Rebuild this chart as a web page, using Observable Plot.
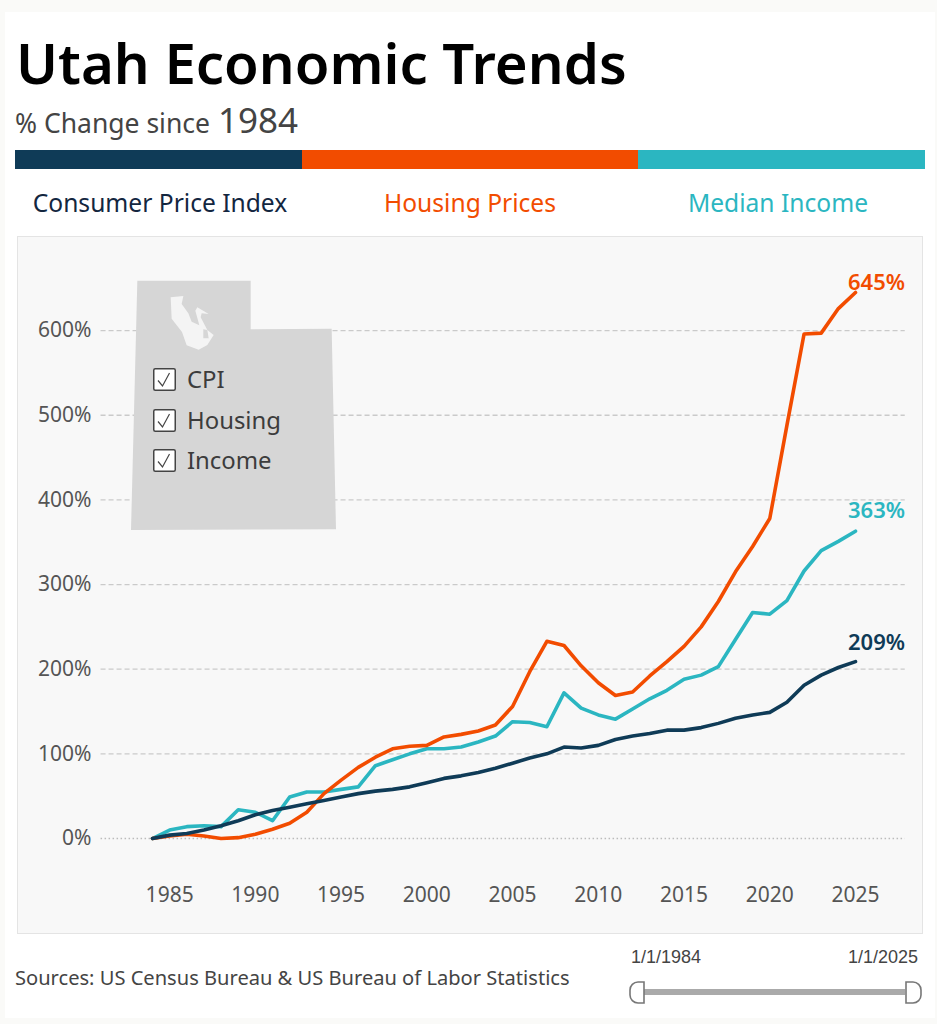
<!DOCTYPE html>
<html><head><meta charset="utf-8">
<script src="https://cdn.jsdelivr.net/npm/d3@7"></script>
<script src="https://cdn.jsdelivr.net/npm/@observablehq/plot@0.6"></script>
<style>
html,body{margin:0;padding:0;background:#fafaf8;}
#page{position:relative;width:937px;height:1024px;overflow:hidden;font-family:"Noto Sans",sans-serif;}
#page>*{position:absolute;}
#sheet{left:5px;top:12px;width:930px;height:1006px;background:#fff;}
h1{margin:0;left:16px;top:24px;font-size:56.3px;line-height:76px;font-weight:600;color:#000;white-space:nowrap;}
#sub{left:15px;top:97px;font-size:26.5px;line-height:46px;color:#444;white-space:nowrap;}
#sub b{font-weight:400;font-size:35px;margin-left:1px;}
.bar{top:150px;height:19px;}
.head{top:186px;font-size:24.6px;line-height:34px;transform:translateX(-50%);white-space:nowrap;}
#panel{left:17px;top:236px;width:904px;height:696px;background:#f8f8f8;border:1px solid #e4e4e4;}
#chart{left:17px;top:236px;}
#chart svg{background:transparent;display:block;}
#utah{left:120px;top:270px;}
.opt{left:153px;display:flex;align-items:center;gap:11px;font-size:23.9px;line-height:30px;color:#3c3c3c;}
.opt svg{display:block;}
#src{left:15px;top:964px;font-size:20.1px;line-height:28px;color:#444;white-space:nowrap;}
.date{top:947px;font-family:"Liberation Sans",sans-serif;font-size:18px;line-height:20px;color:#444;}
#track{left:644px;top:989px;width:261px;height:6px;background:#aaa;}
#hl{left:629px;top:981px;}#hr{left:905px;top:981px;}
</style></head>
<body>
<div id="page">
  <div id="sheet"></div>
  <h1>Utah Economic Trends</h1>
  <div id="sub">% Change since <b>1984</b></div>
  <div class="bar" style="left:15px;width:287px;background:#0f3b57"></div>
  <div class="bar" style="left:302px;width:336px;background:#f24c00"></div>
  <div class="bar" style="left:638px;width:287px;background:#2bb6c1"></div>
  <div class="head" style="left:160px;color:#13263f">Consumer Price Index</div>
  <div class="head" style="left:470px;color:#f24c00">Housing Prices</div>
  <div class="head" style="left:778px;color:#2bb6c1">Median Income</div>
  <div id="panel"></div>
  <div id="chart"></div>
  <svg id="utah" width="230" height="270" viewBox="0 0 690 810">
    <path d="M52 32H392V178L635 176L648 778L33 780Z" fill="#d6d6d6"/>
    <path d="M152 82L190 78L185 102L205 130L215 155L238 166L226 122L232 112L266 132L245 130L242 142L262 180L281 195L262 225L236 239L200 226L186 186L155 146Z" fill="#f4f4f4"/>
    <path d="M250 178L262 180L266 205L250 205Z" fill="#d6d6d6"/>
  </svg>
  <div class="opt" style="top:364px"><svg width="23" height="23" viewBox="0 0 23 23"><rect x=".75" y=".75" width="21.5" height="21.5" rx="1.5" fill="#fff" stroke="#444" stroke-width="1.5"/><path d="M5 12.5L9.5 18L16.5 5" fill="none" stroke="#444" stroke-width="1.2"/></svg>CPI</div>
  <div class="opt" style="top:405px"><svg width="23" height="23" viewBox="0 0 23 23"><rect x=".75" y=".75" width="21.5" height="21.5" rx="1.5" fill="#fff" stroke="#444" stroke-width="1.5"/><path d="M5 12.5L9.5 18L16.5 5" fill="none" stroke="#444" stroke-width="1.2"/></svg>Housing</div>
  <div class="opt" style="top:445px"><svg width="23" height="23" viewBox="0 0 23 23"><rect x=".75" y=".75" width="21.5" height="21.5" rx="1.5" fill="#fff" stroke="#444" stroke-width="1.5"/><path d="M5 12.5L9.5 18L16.5 5" fill="none" stroke="#444" stroke-width="1.2"/></svg>Income</div>
  <div id="src">Sources: US Census Bureau &amp; US Bureau of Labor Statistics</div>
  <div class="date" style="left:631px">1/1/1984</div>
  <div class="date" style="right:19px">1/1/2025</div>
  <div id="track"></div>
  <svg id="hl" width="16" height="23"><path d="M15 1H9A8 8 0 0 0 1 9V14A8 8 0 0 0 9 22H15Z" fill="#fff" stroke="#777" stroke-width="1.6"/></svg>
  <svg id="hr" width="17" height="23"><path d="M1 1H8A8 8 0 0 1 16 9V14A8 8 0 0 1 8 22H1Z" fill="#fff" stroke="#777" stroke-width="1.6"/></svg>
</div>
<script>
const years = d3.range(1984, 2026);
const cpi = [0,4,6,10,15,21,28,33,37,41,45,49,53,56,58,61,66,71,74,78,83,89,95,100,108,107,110,117,121,124,128,128,131,136,142,146,149,161,181,193,202,209];
const housing = [0,3,5,3,0,1,5,11,18,31,53,69,84,96,106,109,110,120,123,127,134,156,197,233,228,204,184,169,173,192,209,227,250,280,315,345,378,488,596,597,626,645];
const income = [0,10,14,15,14,34,31,21,49,55,55,58,61,86,93,100,106,106,108,114,121,138,137,132,172,154,146,141,153,165,175,188,193,203,235,267,265,281,316,340,351,363];
const gridValues = [100,200,300,400,500,600];
const yearTicks = [1985,1990,1995,2000,2005,2010,2015,2020,2025];
const percentTicks = [0,100,200,300,400,500,600];
const navy = "#0f3b57", orange = "#f24c00", teal = "#2bb6c1";
const rows = a => years.map((year, i) => ({year, value: a[i]}));
const last = a => [{year: 2025, value: a[a.length - 1]}];
const lineOpts = c => ({x: "year", y: "value", stroke: c, strokeWidth: 3.6, strokeLinejoin: "round", strokeLinecap: "round"});
const labelOpts = (c, dy) => ({x: "year", y: "value", text: d => d.value + "%", fill: c, dy, dx: 21, fontSize: 22, fontWeight: 600, textAnchor: "middle"});
const chart = Plot.plot({
  width: 906, height: 698,
  marginLeft: 135, marginRight: 68, marginTop: 56, marginBottom: 96,
  style: {fontFamily: '"Noto Sans", sans-serif', background: "transparent", overflow: "visible"},
  x: {domain: [1984, 2025]},
  y: {domain: [0, 645]},
  marks: [
    Plot.ruleY(gridValues, {x1: 1981, x2: 2027.9, stroke: "#cacaca", strokeWidth: 1.3, strokeDasharray: "5 3"}),
    Plot.ruleY([0], {x1: 1981, x2: 2027.9, stroke: "#bbbbbb", strokeWidth: 1.3, strokeDasharray: "1.5 2.5"}),
    Plot.axisX({ticks: yearTicks, tickFormat: d3.format("d"), tickSize: 0, tickPadding: 49, fontSize: 21, color: "#555", label: null}),
    Plot.axisY({ticks: percentTicks, tickFormat: d => d + "%", tickSize: 0, tickPadding: 61, fontSize: 21, color: "#555", label: null}),
    Plot.line(rows(income), lineOpts(teal)),
    Plot.line(rows(housing), lineOpts(orange)),
    Plot.line(rows(cpi), lineOpts(navy)),
    Plot.text(last(housing), labelOpts(orange, -10)),
    Plot.text(last(income), labelOpts(teal, -20)),
    Plot.text(last(cpi), labelOpts(navy, -19))
  ]
});
document.getElementById("chart").append(chart);
</script>
</body></html>
